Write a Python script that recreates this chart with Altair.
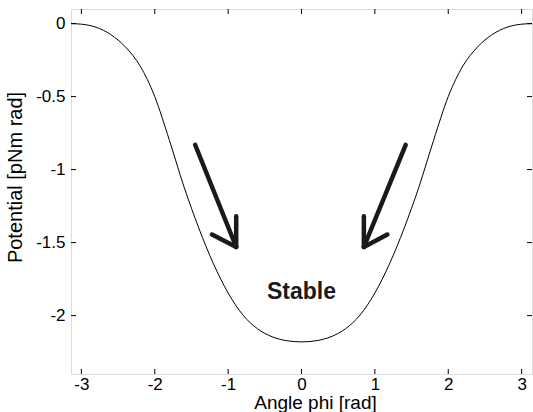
import altair as alt
import pandas as pd

# curve (left half, mirrored on the right)
phi_left = [-3.1416, -3.0, -2.8, -2.6, -2.4, -2.2, -2.0, -1.8, -1.6, -1.4,
            -1.2, -1.0, -0.8, -0.6, -0.4, -0.2, 0.0]
pot_left = [0.0, -0.004, -0.025, -0.075, -0.16, -0.29, -0.50, -0.80, -1.12, -1.40,
            -1.645, -1.845, -1.995, -2.09, -2.145, -2.172, -2.18]
phi_right = [0.2, 0.4, 0.6, 0.8, 1.0, 1.2, 1.4, 1.6, 1.8, 2.0,
             2.2, 2.4, 2.6, 2.8, 3.0, 3.1416]
pot_right = [-2.172, -2.145, -2.09, -1.995, -1.845, -1.645, -1.40, -1.12, -0.80, -0.50,
             -0.29, -0.16, -0.075, -0.025, -0.004, 0.0]

x_ticks = [-3, -2, -1, 0, 1, 2, 3]
y_ticks = [0, -0.5, -1, -1.5, -2]

# arrow segments (start x, start y, end x, end y)
arrow_x = [-1.45, -0.89, -0.89, 1.42, 0.85, 0.85]
arrow_y = [-0.83, -1.53, -1.53, -0.83, -1.53, -1.53]
arrow_x2 = [-0.89, -0.89, -1.22, 0.85, 0.85, 1.17]
arrow_y2 = [-1.53, -1.32, -1.445, -1.53, -1.32, -1.445]

label_text = ["Stable"]
label_x = [0.0]
label_y = [-1.84]

FONT = "Liberation Sans"
W, H = 461, 365

curve = pd.DataFrame({"phi": phi_left + phi_right, "pot": pot_left + pot_right})
arrows = pd.DataFrame({"x": arrow_x, "y": arrow_y, "x2": arrow_x2, "y2": arrow_y2})
labels = pd.DataFrame({"t": label_text, "x": label_x, "y": label_y})
xt = pd.DataFrame({"v": x_ticks})
yt = pd.DataFrame({"v": y_ticks})

xscale = alt.Scale(domain=[-3.14159, 3.14159], nice=False, zero=False)
yscale = alt.Scale(domain=[-2.4, 0.1], nice=False, zero=False)

xaxis = alt.Axis(values=x_ticks, title="Angle phi [rad]", labelExpr="'' + datum.value",
                 tickSize=0, domain=False, grid=False, labelPadding=2,
                 labelFont=FONT, labelFontSize=17, labelColor="black",
                 titleFont=FONT, titleFontSize=19, titleFontWeight="normal",
                 titleColor="black", titleX=244, titleY=34,
                 titleAlign="center", titleBaseline="alphabetic")
yaxis = alt.Axis(values=y_ticks, title="Potential [pNm rad]", labelExpr="'' + datum.value",
                 tickSize=0, domain=False, grid=False, labelPadding=6,
                 labelFont=FONT, labelFontSize=17, labelColor="black",
                 titleFont=FONT, titleFontSize=20, titleFontWeight="normal",
                 titleColor="black", titleX=-56, titleY=168,
                 titleAlign="center", titleBaseline="middle", titleAngle=270)

line = alt.Chart(curve).mark_line(color="black", strokeWidth=1, interpolate="monotone").encode(
    x=alt.X("phi:Q", scale=xscale, axis=xaxis),
    y=alt.Y("pot:Q", scale=yscale, axis=yaxis),
    order="phi:Q",
)

arrow = alt.Chart(arrows).mark_rule(color="#1a1a1a", strokeWidth=4.5, strokeCap="round").encode(
    x=alt.X("x:Q", scale=xscale), y=alt.Y("y:Q", scale=yscale),
    x2="x2:Q", y2="y2:Q",
)

text = alt.Chart(labels).mark_text(font=FONT, fontSize=23, fontWeight="bold", color="#1a1a1a").encode(
    x=alt.X("x:Q", scale=xscale), y=alt.Y("y:Q", scale=yscale), text="t:N"
)

tick_style = dict(color="black", strokeWidth=1)
xb = alt.Chart(xt).mark_rule(**tick_style).encode(
    x=alt.X("v:Q", scale=xscale), y=alt.value(H), y2=alt.value(H - 5))
xtp = alt.Chart(xt).mark_rule(**tick_style).encode(
    x=alt.X("v:Q", scale=xscale), y=alt.value(0), y2=alt.value(5))
yl = alt.Chart(yt).mark_rule(**tick_style).encode(
    y=alt.Y("v:Q", scale=yscale), x=alt.value(0), x2=alt.value(5))
yr = alt.Chart(yt).mark_rule(**tick_style).encode(
    y=alt.Y("v:Q", scale=yscale), x=alt.value(W), x2=alt.value(W - 5))

chart = alt.layer(line, arrow, text, xb, xtp, yl, yr).properties(
    width=W, height=H,
    autosize=alt.AutoSizeParams(type="none"),
    padding={"left": 71, "top": 9, "right": 1, "bottom": 38},
).configure_view(stroke="black", strokeWidth=1.2).configure(background="white")

chart.save("out.html", embed_options={"renderer": "svg", "actions": False})
